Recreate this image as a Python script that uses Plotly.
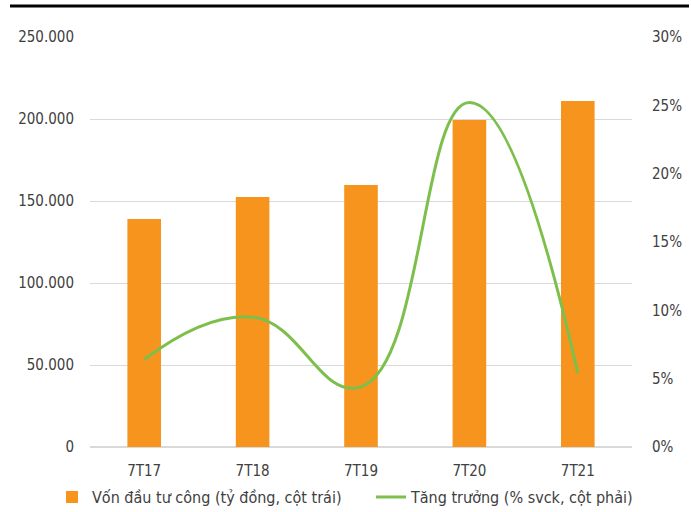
import plotly.graph_objects as go

categories = ["7T17", "7T18", "7T19", "7T20", "7T21"]
von_dau_tu = [139000, 152400, 159700, 199400, 211000]
tang_truong = [6.4, 9.5, 4.4, 25.2, 5.4]

FONT = "DejaVu Sans Condensed, Liberation Sans Narrow, sans-serif"
TXT = "#404040"

fig = go.Figure()
fig.add_trace(go.Bar(
    x=categories, y=von_dau_tu, name="Vốn đầu tư công (tỷ đồng, cột trái)",
    marker=dict(color="#F7941D", line=dict(width=0)), width=0.31, yaxis="y",
    legend="legend"))
fig.add_trace(go.Scatter(
    x=categories, y=tang_truong, name="Tăng trưởng (% svck, cột phải)",
    mode="lines", line=dict(color="#7DBF4B", width=3, shape="spline", smoothing=1.3),
    yaxis="y2", legend="legend2"))

leg_common = dict(orientation="h", xref="container", yref="container",
                  xanchor="left", y=0.029, yanchor="middle",
                  font=dict(family=FONT, size=16, color=TXT), itemwidth=30)

fig.update_layout(
    width=691, height=512,
    margin=dict(l=90, r=59, t=37, b=65, autoexpand=False),
    paper_bgcolor="white", plot_bgcolor="white",
    separators=",.",
    font=dict(family=FONT, size=15, color=TXT),
    showlegend=True,
    legend=dict(x=52 / 691, **leg_common),
    legend2=dict(x=371 / 691, **leg_common),
    xaxis=dict(showgrid=False, showline=False, ticks="outside", ticklen=10,
               tickcolor="rgba(0,0,0,0)", tickfont=dict(size=15, color=TXT)),
    yaxis=dict(range=[0, 250000], dtick=50000, tickformat=",.0f",
               showgrid=True, gridcolor="#D9D9D9", gridwidth=1, zeroline=True,
               zerolinecolor="#D9D9D9", showline=False, ticks="outside", ticklen=12,
               tickcolor="rgba(0,0,0,0)", tickfont=dict(size=15, color=TXT)),
    yaxis2=dict(range=[0, 30], dtick=5, ticksuffix="%", overlaying="y", side="right",
                showgrid=False, zeroline=False, showline=False, ticks="outside",
                ticklen=16, tickcolor="rgba(0,0,0,0)", tickfont=dict(size=15, color=TXT)),
    shapes=[dict(type="line", xref="paper", yref="paper",
                 x0=(10 - 90) / 542, x1=(689 - 90) / 542,
                 y0=(447 - 6) / 410, y1=(447 - 6) / 410,
                 line=dict(color="black", width=3))],
)

fig.write_html("out.html", config={"displayModeBar": False},
               post_script="document.body.style.margin='0';")
